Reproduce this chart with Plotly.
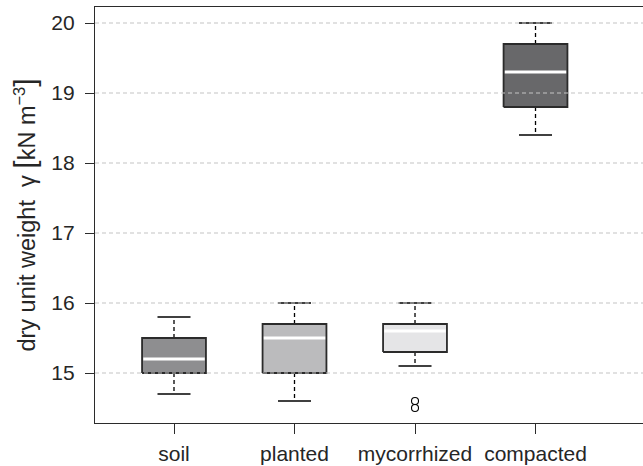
import plotly.graph_objects as go

# Dry unit weight per treatment (five-number summaries + outliers)
groups = ["soil", "planted", "mycorrhized", "compacted"]
lower_whisker = [14.7, 14.6, 15.1, 18.4]
q1 = [15.0, 15.0, 15.3, 18.8]
median = [15.2, 15.5, 15.6, 19.3]
q3 = [15.5, 15.7, 15.7, 19.7]
upper_whisker = [15.8, 16.0, 16.0, 20.0]
outlier_group = [3, 3]
outlier_value = [14.6, 14.5]
fills = ["#8e8e90", "#bbbbbd", "#e5e5e7", "#68686a"]
y_ticks = [15, 16, 17, 18, 19, 20]

BOX_HALF = 0.265
CAP_HALF = 0.137
EDGE = "#2b2b2b"
TEXT = "#262626"
X_RANGE = [0.3444, 4.892]

fig = go.Figure()

for i, name in enumerate(groups):
    x = i + 1
    # whiskers (dashed) and caps
    fig.add_trace(go.Scatter(
        x=[x, x, None, x, x], y=[q3[i], upper_whisker[i], None, q1[i], lower_whisker[i]],
        mode="lines", line=dict(color="black", width=1.3, dash="4px,3px"),
        hoverinfo="skip", showlegend=False))
    fig.add_trace(go.Scatter(
        x=[x - CAP_HALF, x + CAP_HALF, None, x - CAP_HALF, x + CAP_HALF],
        y=[upper_whisker[i], upper_whisker[i], None, lower_whisker[i], lower_whisker[i]],
        mode="lines", line=dict(color="black", width=1.3),
        hoverinfo="skip", showlegend=False))
    # box
    fig.add_trace(go.Scatter(
        x=[x - BOX_HALF, x + BOX_HALF, x + BOX_HALF, x - BOX_HALF, x - BOX_HALF],
        y=[q1[i], q1[i], q3[i], q3[i], q1[i]],
        mode="lines", fill="toself", fillcolor=fills[i],
        line=dict(color=EDGE, width=1.8),
        name=name, showlegend=False))
    # median
    fig.add_trace(go.Scatter(
        x=[x - BOX_HALF + 0.01, x + BOX_HALF - 0.01], y=[median[i], median[i]],
        mode="lines", line=dict(color="white", width=3),
        hoverinfo="skip", showlegend=False))

fig.add_trace(go.Scatter(
    x=outlier_group, y=outlier_value, mode="markers",
    marker=dict(symbol="circle-open", size=7, color="black", line=dict(width=1.1)),
    showlegend=False))

# dashed grid drawn over the boxes
for t in y_ticks:
    fig.add_shape(type="line", xref="paper", x0=0, x1=1, yref="y", y0=t, y1=t,
                  line=dict(color="#c4c4c4", width=1.1, dash="4px,3px"), layer="above")

fig.update_layout(
    width=643, height=466,
    margin=dict(l=95, r=0, t=7, b=43),
    paper_bgcolor="white", plot_bgcolor="white",
    font=dict(family="Liberation Sans, Arial, sans-serif", size=21, color=TEXT),
    xaxis=dict(
        range=X_RANGE, tickvals=[1, 2, 3, 4], ticktext=groups,
        showgrid=False, zeroline=False, showline=True, linecolor=EDGE, linewidth=1.3,
        ticks="outside", ticklen=10, tickcolor=EDGE, tickwidth=1.2,
        ticklabelstandoff=2,
    ),
    # top frame line
    xaxis2=dict(
        overlaying="x", side="top", range=X_RANGE, showticklabels=False,
        showgrid=False, zeroline=False, showline=True, linecolor=EDGE, linewidth=1.3,
        ticks="",
    ),
    yaxis=dict(
        range=[14.286, 20.2286], tickvals=y_ticks,
        showgrid=False, zeroline=False, showline=True, linecolor=EDGE, linewidth=1.3,
        ticks="outside", ticklen=9, tickcolor=EDGE, tickwidth=1.2,
        ticklabelstandoff=6,
        title=dict(
            text="dry unit weight  \u03b3 <span style='font-size:30px'>[</span>kN m<sup>\u22123</sup><span style='font-size:30px'>]</span>",
            font=dict(size=23.5), standoff=9),
    ),
)
fig.add_trace(go.Scatter(x=[None], y=[None], xaxis="x2", showlegend=False, hoverinfo="skip"))

fig.write_html(
    "out.html",
    config={"displayModeBar": False},
    post_script="document.documentElement.style.overflow='hidden';"
                "document.body.style.overflow='hidden';",
)
